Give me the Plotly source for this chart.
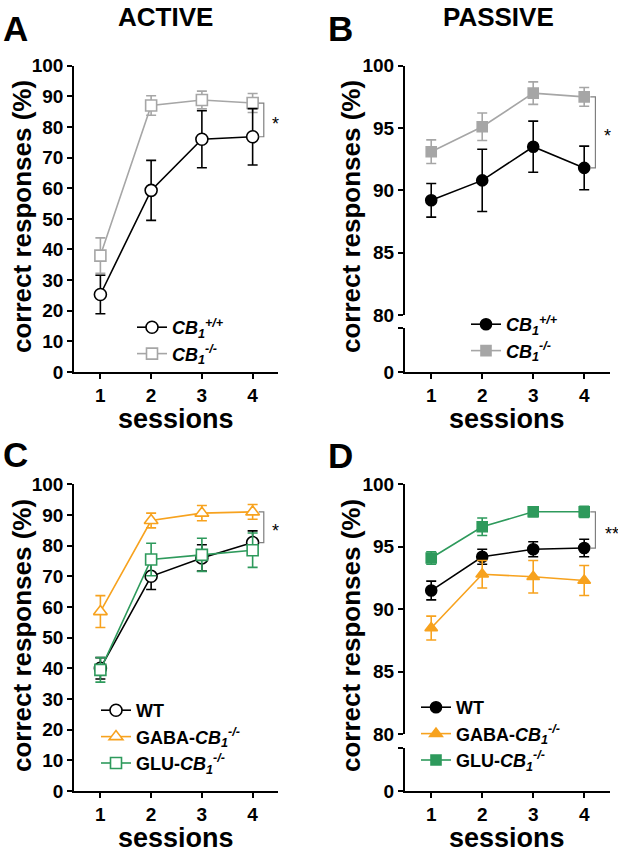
import plotly.graph_objects as go

# ---------------- data ----------------
sessions = [1, 2, 3, 4]

# Panel A (ACTIVE)
a_wt_mean = [25.3, 59.3, 76.0, 76.8]
a_wt_sem = [6.3, 9.8, 9.3, 9.2]
a_ko_mean = [38.0, 87.0, 88.8, 87.8]
a_ko_sem = [5.8, 3.2, 2.9, 3.1]

# Panel B (PASSIVE)
b_wt_mean = [89.2, 90.8, 93.5, 91.8]
b_wt_sem = [1.35, 2.5, 2.05, 1.75]
b_ko_mean = [93.1, 95.1, 97.8, 97.5]
b_ko_sem = [0.95, 1.1, 0.9, 0.75]

# Panel C (ACTIVE, conditional)
c_wt_mean = [40.0, 70.0, 76.0, 81.0]
c_wt_sem = [3.5, 4.3, 4.3, 3.8]
c_gaba_mean = [58.5, 88.2, 90.6, 91.0]
c_gaba_sem = [5.2, 2.4, 2.5, 2.4]
c_glu_mean = [39.5, 75.5, 77.0, 78.5]
c_glu_sem = [4.0, 5.3, 5.4, 5.6]

# Panel D (PASSIVE, conditional)
d_wt_mean = [91.5, 94.2, 94.8, 94.9]
d_wt_sem = [0.75, 0.6, 0.6, 0.7]
d_gaba_mean = [88.5, 92.8, 92.6, 92.3]
d_gaba_sem = [0.95, 1.1, 1.3, 1.2]
d_glu_mean = [94.1, 96.6, 97.8, 97.8]
d_glu_sem = [0.5, 0.7, 0.4, 0.45]

active_ticks = [0, 10, 20, 30, 40, 50, 60, 70, 80, 90, 100]
passive_ticks = [80, 85, 90, 95, 100]

lbl_cb_wt = "<i>CB<sub>1</sub><sup>+/+</sup></i>"
lbl_cb_ko = "<i>CB<sub>1</sub><sup>-/-</sup></i>"
lbl_wt = "WT"
lbl_gaba = "GABA-<i>CB<sub>1</sub><sup>-/-</sup></i>"
lbl_glu = "GLU-<i>CB<sub>1</sub><sup>-/-</sup></i>"

# ---------------- style ----------------
W, H = 618, 852
BLACK = "#000000"
GRAY = "#a6a6a6"
ORANGE = "#f7a21e"
GREEN = "#2e9a5c"
FONT = "Liberation Sans"


def px(x):
    return x / W


def py(y):
    return 1 - y / H


fig = go.Figure()


def add_series(xa, ya, mean, sem, color, symbol, filled, name, legend, rank, size=11):
    fig.add_trace(go.Scatter(
        x=sessions, y=mean, xaxis=xa, yaxis=ya, name=name, legend=legend,
        legendrank=rank,
        mode="lines+markers",
        line=dict(color=color, width=1.6),
        marker=dict(symbol=symbol, size=size,
                    color=color if filled else "white",
                    line=dict(color=color, width=1.6)),
        error_y=dict(type="data", array=sem, visible=True, color=color,
                     thickness=1.6, width=5),
        cliponaxis=False,
    ))


# Panel A
add_series("x", "y", a_ko_mean, a_ko_sem, GRAY, "square", False, lbl_cb_ko, "legend", 2)
add_series("x", "y", a_wt_mean, a_wt_sem, BLACK, "circle", False, lbl_cb_wt, "legend", 1, 12)
# Panel B
add_series("x2", "y2", b_ko_mean, b_ko_sem, GRAY, "square", True, lbl_cb_ko, "legend2", 2, 10)
add_series("x2", "y2", b_wt_mean, b_wt_sem, BLACK, "circle", True, lbl_cb_wt, "legend2", 1, 11)
# Panel C
add_series("x3", "y3", c_wt_mean, c_wt_sem, BLACK, "circle", False, lbl_wt, "legend3", 1, 12)
add_series("x3", "y3", c_glu_mean, c_glu_sem, GREEN, "square", False, lbl_glu, "legend3", 3)
add_series("x3", "y3", c_gaba_mean, c_gaba_sem, ORANGE, "triangle-up", False, lbl_gaba, "legend3", 2, 12)
# Panel D
add_series("x4", "y4", d_wt_mean, d_wt_sem, BLACK, "circle", True, lbl_wt, "legend4", 1, 11)
add_series("x4", "y4", d_gaba_mean, d_gaba_sem, ORANGE, "triangle-up", True, lbl_gaba, "legend4", 2, 11)
add_series("x4", "y4", d_glu_mean, d_glu_sem, GREEN, "square", True, lbl_glu, "legend4", 3, 10)

# empty traces so the lower (broken) axis segments get drawn
for xa, ya in (("x2", "y5"), ("x4", "y6")):
    fig.add_trace(go.Scatter(x=[], y=[], xaxis=xa, yaxis=ya, showlegend=False,
                             mode="markers", hoverinfo="skip"))

axis_common = dict(showline=True, linecolor=BLACK, linewidth=1.5, ticks="outside",
                   ticklen=5, tickwidth=1.5, tickcolor=BLACK, showgrid=False,
                   zeroline=False, automargin=False,
                   tickfont=dict(size=19, family=FONT, color=BLACK, weight="bold"))

XL, XR = 0.48, 4.5
fig.update_layout(
    xaxis=dict(domain=[px(74), px(278)], range=[XL, XR], tickvals=sessions, anchor="y", **axis_common),
    xaxis2=dict(domain=[px(404.7), px(609.7)], range=[XL, XR], tickvals=sessions, anchor="y5", **axis_common),
    xaxis3=dict(domain=[px(74), px(278)], range=[XL, XR], tickvals=sessions, anchor="y3", **axis_common),
    xaxis4=dict(domain=[px(404.7), px(609.7)], range=[XL, XR], tickvals=sessions, anchor="y6", **axis_common),
    yaxis=dict(domain=[py(372), py(65.7)], range=[0, 100], tickvals=active_ticks, anchor="x", **axis_common),
    yaxis2=dict(domain=[py(315), py(65.7)], range=[80, 100], tickvals=passive_ticks, anchor="x2", **axis_common),
    yaxis3=dict(domain=[py(791), py(484.3)], range=[0, 100], tickvals=active_ticks, anchor="x3", **axis_common),
    yaxis4=dict(domain=[py(734.3), py(484.3)], range=[80, 100], tickvals=passive_ticks, anchor="x4", **axis_common),
    yaxis5=dict(domain=[py(372), py(328)], range=[0, 1], tickvals=[0, 1], ticktext=["0", ""], anchor="x2", **axis_common),
    yaxis6=dict(domain=[py(791), py(747.7)], range=[0, 1], tickvals=[0, 1], ticktext=["0", ""], anchor="x4", **axis_common),
)

leg_common = dict(bgcolor="rgba(0,0,0,0)", font=dict(size=18, family=FONT, color=BLACK, weight="bold"),
                  xanchor="left", yanchor="top", traceorder="normal", itemclick=False)
fig.update_layout(
    legend=dict(x=px(132), y=py(309), **leg_common),
    legend2=dict(x=px(466), y=py(306), **leg_common),
    legend3=dict(x=px(96), y=py(692), **leg_common),
    legend4=dict(x=px(416), y=py(689), **leg_common),
)

# significance brackets
BR = "#7f7f7f"


def bracket(xref, yref, ytop, ybot, x0, x1):
    fig.add_shape(type="path", xref=xref, yref=yref,
                  path=f"M {x0},{ytop} L {x1},{ytop} L {x1},{ybot} L {x0},{ybot}",
                  line=dict(color=BR, width=1.2))


bracket("x", "y", a_ko_mean[-1], a_wt_mean[-1], 4.12, 4.22)
bracket("x2", "y2", b_ko_mean[-1], b_wt_mean[-1], 4.12, 4.22)
bracket("x3", "y3", c_gaba_mean[-1], c_wt_mean[-1], 4.12, 4.22)
bracket("x4", "y4", d_glu_mean[-1], d_wt_mean[-1], 4.12, 4.22)

ann = []


def star(xref, yref, x, y, text, xshift=0):
    ann.append(dict(xref=xref, yref=yref, x=x, y=y, text=text, showarrow=False,
                    xanchor="center", yanchor="middle", yshift=-4, xshift=xshift,
                    font=dict(size=18, family=FONT, color=BLACK, weight="normal")))


star("x", "y", 4.45, (a_ko_mean[-1] + a_wt_mean[-1]) / 2, "*")
star("x2", "y2", 4.45, (b_ko_mean[-1] + b_wt_mean[-1]) / 2, "*")
star("x3", "y3", 4.45, (c_gaba_mean[-1] + c_wt_mean[-1]) / 2, "*")
star("x4", "y4", 4.45, (d_glu_mean[-1] + d_wt_mean[-1]) / 2, "**", xshift=5)


def text(x, y, t, size, angle=0, yanchor="middle"):
    ann.append(dict(xref="paper", yref="paper", x=px(x), y=py(y), text=t, showarrow=False,
                    xanchor="center", yanchor=yanchor, textangle=angle,
                    font=dict(size=size, family=FONT, color=BLACK, weight="bold")))


text(165, 0, "ACTIVE", 26, yanchor="top")
text(498, 0, "PASSIVE", 26, yanchor="top")
text(15, 29, "A", 35)
text(340, 29, "B", 35)
text(15, 454, "C", 35)
text(340, 455, "D", 35)
for yy in (419, 838):
    text(176, yy, "sessions", 27)
    text(507, yy, "sessions", 27)
text(22, 217, "correct responses (%)", 26, -90)
text(351, 217, "correct responses (%)", 26, -90)
text(22, 636, "correct responses (%)", 26, -90)
text(351, 636, "correct responses (%)", 26, -90)

fig.update_layout(
    annotations=ann,
    width=W, height=H,
    margin=dict(l=0, r=0, t=0, b=0, autoexpand=False),
    paper_bgcolor="white", plot_bgcolor="white",
    font=dict(family=FONT, weight="bold", color=BLACK),
    showlegend=True,
)

fig.write_html("out.html", config={"displayModeBar": False},
               post_script="document.body.style.margin='0px';document.body.style.overflow='hidden';")
